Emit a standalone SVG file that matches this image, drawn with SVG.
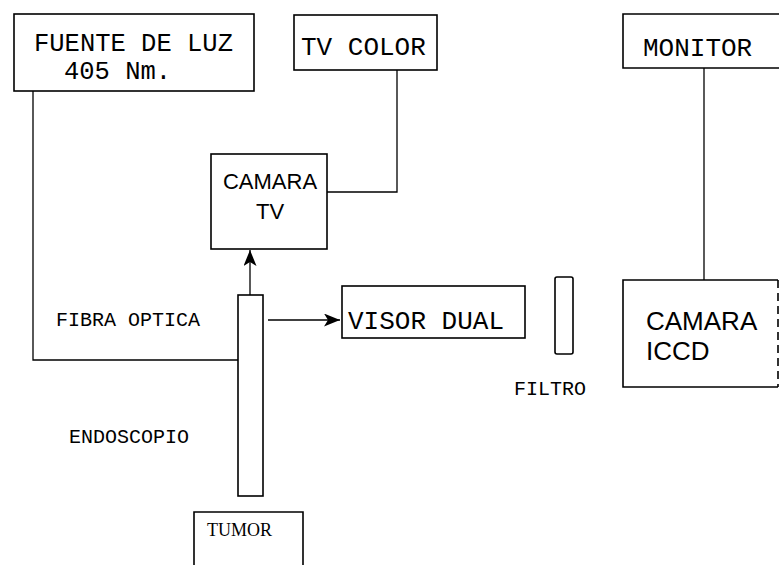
<svg xmlns="http://www.w3.org/2000/svg" width="779" height="565" viewBox="0 0 779 565">
<style>
.box{fill:none;stroke:#000;stroke-width:1.6}
.ln{fill:none;stroke:#000;stroke-width:1.3}
.mono{font-family:"Liberation Mono",monospace;fill:#000}
.thin{font-family:"Liberation Mono",monospace;fill:#000;font-size:20px}
.sans{font-family:"Liberation Sans",Arial,sans-serif;fill:#000}
.serif{font-family:"Liberation Serif",serif;fill:#000}
</style>
<defs>
<marker id="ah" markerUnits="userSpaceOnUse" markerWidth="18" markerHeight="14" refX="16" refY="6.5" orient="auto">
<path d="M0,0 L16,6.5 L0,13 L4,6.5 z" fill="#000"/>
</marker>
</defs>
<rect width="779" height="565" fill="#fff"/>
<g id="connectors">
<path class="ln" d="M33 91 V360 H238"/>
<path class="ln" d="M397 70 V192 H327"/>
<path class="ln" d="M704 68 V280"/>
<path class="ln" d="M250 295 V250" marker-end="url(#ah)"/>
<path class="ln" d="M268 320 H340" marker-end="url(#ah)"/>
</g>
<g id="fuente">
<rect class="box" x="14" y="14" width="240" height="77"/>
<text class="mono" x="34" y="51" font-size="25.5">FUENTE DE LUZ</text>
<text class="mono" x="64" y="79" font-size="25.5">405 Nm.</text>
</g>
<g id="tvcolor">
<rect class="box" x="294" y="15" width="143" height="55"/>
<text class="mono" x="301" y="55" font-size="26">TV COLOR</text>
</g>
<g id="monitor">
<path class="box" d="M790 14 H623 V68 H790"/>
<text class="mono" x="643" y="56" font-size="26">MONITOR</text>
</g>
<g id="camaratv">
<rect class="box" x="211" y="154" width="116" height="95"/>
<text class="sans" x="270" y="189" font-size="22" text-anchor="middle">CAMARA</text>
<text class="sans" x="270" y="219" font-size="22" text-anchor="middle">TV</text>
</g>
<g id="visordual">
<rect class="box" x="342" y="286" width="183" height="52"/>
<text class="mono" x="348" y="329" font-size="26">VISOR DUAL</text>
</g>
<g id="filtro">
<rect class="box" x="555" y="277" width="18" height="77" rx="2"/>
<text class="thin" x="514" y="395">FILTRO</text>
</g>
<g id="camaraiccd">
<path class="box" d="M778 280 H623 V387 H778"/>
<path class="box" d="M778 280 V387" stroke-dasharray="8 5"/>
<text class="sans" x="646" y="330" font-size="26">CAMARA</text>
<text class="sans" x="646" y="360" font-size="26">ICCD</text>
</g>
<g id="endoscopio">
<rect class="box" x="238" y="295" width="25" height="201"/>
<text class="thin" x="56" y="326">FIBRA OPTICA</text>
<text class="thin" x="69" y="443">ENDOSCOPIO</text>
</g>
<g id="tumor">
<path class="box" d="M194 565 V512 H303 V565"/>
<text class="serif" x="207" y="536" font-size="18">TUMOR</text>
</g>
</svg>
